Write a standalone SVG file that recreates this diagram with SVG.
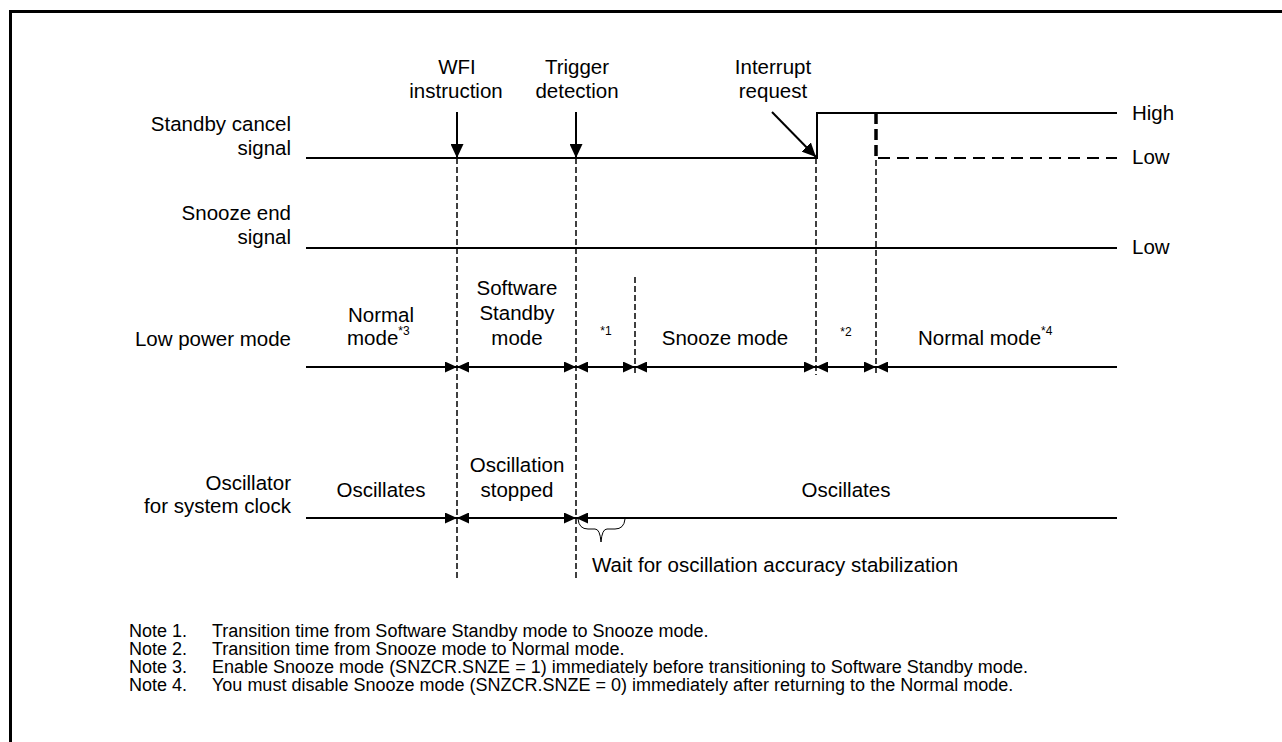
<svg xmlns="http://www.w3.org/2000/svg" width="1282" height="742" viewBox="0 0 1282 742">
<style>
text{font-family:"Liberation Sans",Arial,sans-serif;font-size:20.5px;fill:#000}
.r{text-anchor:end}
.m{text-anchor:middle}
.sup{font-size:12px}
.note{font-size:18px}
.ln{stroke:#000;stroke-width:2;fill:none}
.dv{stroke:#000;stroke-width:1.5;stroke-dasharray:6 3;fill:none}
.dl{stroke:#000;stroke-width:2;stroke-dasharray:12 7;fill:none}
.dt{stroke:#000;stroke-width:3.5;stroke-dasharray:11 5;fill:none}
.br{stroke:#000;stroke-width:1;fill:none}
</style>
<defs>
<marker id="ah" viewBox="0 0 12 11" refX="12" refY="5.5" markerWidth="12" markerHeight="11" markerUnits="userSpaceOnUse" orient="auto-start-reverse"><path d="M0,0 L12,5.5 L0,11 z" fill="#000"/></marker>
<marker id="ab" viewBox="0 0 14 13" refX="14" refY="6.5" markerWidth="14" markerHeight="13" markerUnits="userSpaceOnUse" orient="auto"><path d="M0,0 L14,6.5 L0,13 z" fill="#000"/></marker>
</defs>
<rect width="1282" height="742" fill="#fff"/>
<path d="M10.5 742 V11.5 H1282" stroke="#000" stroke-width="3" fill="none"/>

<g id="standby-cancel">
<text class="r" x="291" y="131">Standby cancel</text>
<text class="r" x="291" y="155">signal</text>
<path class="ln" d="M306 158 H817 V113 H1117"/>
<path class="dl" d="M878 158 H1117"/>
<path class="dt" d="M876 113 V158"/>
<text x="1132" y="120">High</text>
<text x="1132" y="164">Low</text>
</g>

<g id="snooze-end">
<text class="r" x="291" y="220">Snooze end</text>
<text class="r" x="291" y="244">signal</text>
<path class="ln" d="M306 248 H1117"/>
<text x="1132" y="254">Low</text>
</g>

<g id="low-power-mode">
<text class="r" x="291" y="346">Low power mode</text>
<text class="m" x="381" y="322">Normal</text>
<text x="347" y="345">mode<tspan class="sup" dy="-10">*3</tspan></text>
<text class="m" x="517" y="295">Software</text>
<text class="m" x="517" y="320">Standby</text>
<text class="m" x="517" y="345">mode</text>
<text class="sup m" x="606" y="335">*1</text>
<text class="m" x="725" y="345">Snooze mode</text>
<text class="sup m" x="846" y="336">*2</text>
<text x="918" y="345">Normal mode<tspan class="sup" dy="-10">*4</tspan></text>
</g>

<g id="oscillator">
<text class="r" x="291" y="490">Oscillator</text>
<text class="r" x="291" y="513">for system clock</text>
<text class="m" x="381" y="497">Oscillates</text>
<text class="m" x="517" y="472">Oscillation</text>
<text class="m" x="517" y="497">stopped</text>
<text class="m" x="846" y="497">Oscillates</text>
<text x="592" y="572">Wait for oscillation accuracy stabilization</text>
</g>

<g id="events">
<text class="m" x="457" y="74">WFI</text>
<text class="m" x="456" y="98">instruction</text>
<text class="m" x="577" y="74">Trigger</text>
<text class="m" x="577" y="98">detection</text>
<text class="m" x="773" y="74">Interrupt</text>
<text class="m" x="773" y="98">request</text>
</g>

<g id="connectors">
<path class="ln" d="M457 112 V158" marker-end="url(#ab)"/>
<path class="ln" d="M576 112 V158" marker-end="url(#ab)"/>
<path class="ln" d="M772 112 L816 157" marker-end="url(#ab)"/>
<path class="dv" d="M457 158 V580"/>
<path class="dv" d="M576 158 V580"/>
<path class="dv" d="M635 277 V373"/>
<path class="dv" d="M816 158 V375"/>
<path class="dv" d="M876 160 V375"/>
<path class="ln" d="M306 367 H457" marker-end="url(#ah)"/>
<path class="ln" d="M457 367 H576" marker-start="url(#ah)" marker-end="url(#ah)"/>
<path class="ln" d="M576 367 H635" marker-start="url(#ah)" marker-end="url(#ah)"/>
<path class="ln" d="M635 367 H816" marker-start="url(#ah)" marker-end="url(#ah)"/>
<path class="ln" d="M816 367 H876" marker-start="url(#ah)" marker-end="url(#ah)"/>
<path class="ln" d="M876 367 H1117" marker-start="url(#ah)"/>
<path class="ln" d="M306 518 H457" marker-end="url(#ah)"/>
<path class="ln" d="M457 518 H576" marker-start="url(#ah)" marker-end="url(#ah)"/>
<path class="ln" d="M576 518 H1117" marker-start="url(#ah)"/>
<path class="br" d="M578 519 Q579 529 588 529 H595 Q600 529 601 542 Q602 529 607 529 H615 Q624 529 625 519"/>
</g>

<g id="notes">
<text class="note" x="129" y="637">Note 1.</text>
<text class="note" x="212" y="637">Transition time from Software Standby mode to Snooze mode.</text>
<text class="note" x="129" y="655">Note 2.</text>
<text class="note" x="212" y="655">Transition time from Snooze mode to Normal mode.</text>
<text class="note" x="129" y="673">Note 3.</text>
<text class="note" x="212" y="673">Enable Snooze mode (SNZCR.SNZE = 1) immediately before transitioning to Software Standby mode.</text>
<text class="note" x="129" y="691">Note 4.</text>
<text class="note" x="212" y="691">You must disable Snooze mode (SNZCR.SNZE = 0) immediately after returning to the Normal mode.</text>
</g>
</svg>
